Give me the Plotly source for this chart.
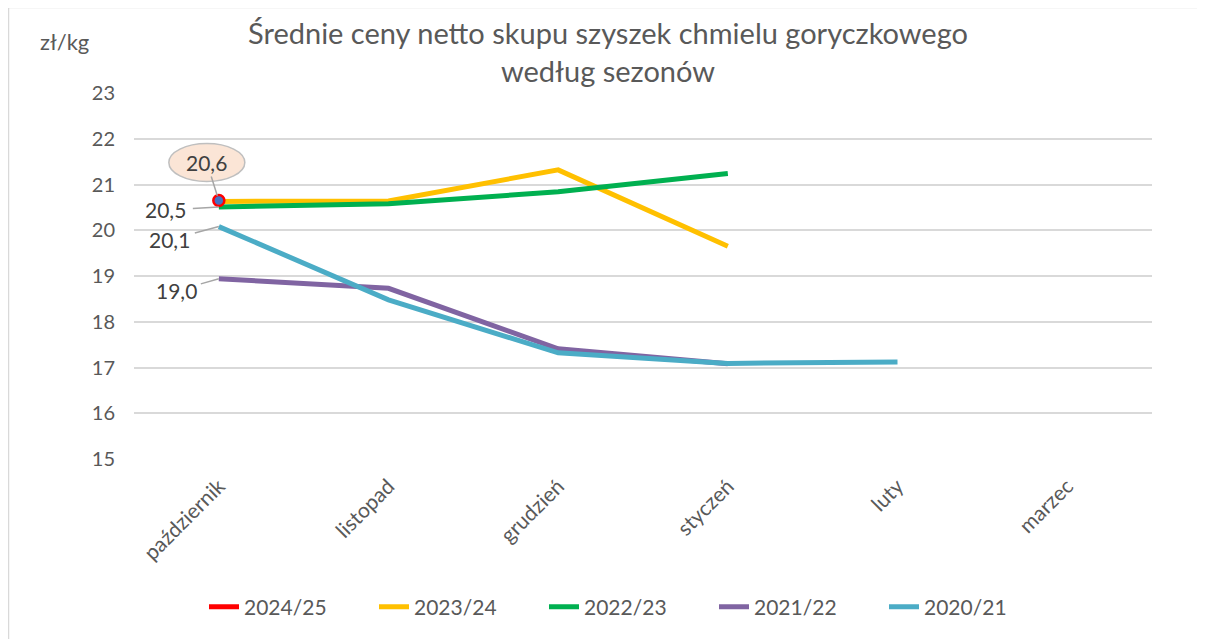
import plotly.graph_objects as go

months = ["październik", "listopad", "grudzień", "styczeń", "luty", "marzec"]
series_names = ["2024/25", "2023/24", "2022/23", "2021/22", "2020/21"]
s2024 = [20.65, None, None, None, None, None]
s2023 = [20.63, 20.64, 21.32, 19.65, None, None]
s2022 = [20.51, 20.58, 20.84, 21.24, None, None]
s2021 = [18.94, 18.73, 17.41, 17.08, None, None]
s2020 = [20.08, 18.48, 17.32, 17.09, 17.12, None]
colors = ["#FF0000", "#FFC000", "#00B050", "#8064A2", "#4BACC6"]
yticks = [15, 16, 17, 18, 19, 20, 21, 22, 23]

FONT = "Lato"
GRAY = "#595959"

# figure geometry (page body has an 8px margin)
W, H = 1197, 631
L, T, R, B = 126, 85, 53, 180
PW, PH = W - L - R, H - T - B
LW = 5

fig = go.Figure()
all_series = [s2024, s2023, s2022, s2021, s2020]
for name, vals, col in zip(series_names, all_series, colors):
    if name == "2024/25":
        fig.add_trace(go.Scatter(
            x=months, y=vals, name=name, mode="lines+markers",
            line=dict(color=col, width=LW),
            marker=dict(size=11, color="#4472C4", line=dict(color=col, width=2.5)),
            showlegend=False))
        fig.add_trace(go.Scatter(
            x=[None], y=[None], name=name, mode="lines",
            line=dict(color=col, width=LW)))
    else:
        fig.add_trace(go.Scatter(
            x=months, y=vals, name=name, mode="lines",
            line=dict(color=col, width=LW), connectgaps=False))

traces = list(fig.data)
fig.data = traces[1:] + traces[:1]

lab_font = dict(family=FONT, size=21, color="#404040")
fig.add_shape(type="circle", xref="x", yref="y", xsizemode="pixel", ysizemode="pixel",
              xanchor=months[0], yanchor=s2024[0], x0=-50, x1=26, y0=19, y1=57,
              fillcolor="#FBE5D6", line=dict(color="#BFBFBF", width=1.5), layer="below")
fig.add_annotation(x=months[0], y=s2024[0], text="20,6", showarrow=True,
                   ax=-12, ay=-38, arrowhead=0, arrowcolor="#A6A6A6", arrowwidth=1.5,
                   standoff=5, font=lab_font)
fig.add_annotation(x=months[0], y=s2022[0], text="20,5", showarrow=True,
                   ax=-53, ay=3, arrowhead=0, arrowcolor="#A6A6A6", arrowwidth=1.5,
                   standoff=0, borderpad=6, font=lab_font)
fig.add_annotation(x=months[0], y=s2020[0], text="20,1", showarrow=True,
                   ax=-49, ay=13, arrowhead=0, arrowcolor="#A6A6A6", arrowwidth=1.5,
                   standoff=0, borderpad=4, font=lab_font)
fig.add_annotation(x=months[0], y=s2021[0], text="19,0", showarrow=True,
                   ax=-42, ay=12, arrowhead=0, arrowcolor="#A6A6A6", arrowwidth=1.5,
                   standoff=0, borderpad=3, font=lab_font)

fig.add_annotation(xref="paper", yref="paper", x=(30 - L) / PW, y=(H - B - 34) / PH,
                   xanchor="left", yanchor="middle", text="zł/kg", showarrow=False,
                   font=dict(family=FONT, size=22, color=GRAY))

fig.add_shape(type="rect", xref="paper", yref="paper",
              x0=(0.5 - L) / PW, x1=(W + 20 - L) / PW,
              y0=(H - B - (H + 20)) / PH, y1=(H - B + 0.5) / PH,
              line=dict(color="#D9D9D9", width=1.5), fillcolor="rgba(0,0,0,0)", layer="below")

fig.update_layout(
    width=W, height=H,
    margin=dict(l=L, r=R, t=T, b=B),
    paper_bgcolor="white", plot_bgcolor="white",
    title=dict(text="Średnie ceny netto skupu szyszek chmielu goryczkowego<br>według sezonów",
               x=600 / W, xanchor="center", y=1 - 36 / H, yanchor="middle",
               yref="container",
               font=dict(family=FONT, size=29, color=GRAY)),
    font=dict(family=FONT, color=GRAY),
    legend=dict(orientation="h", x=621 / W, xref="container", xanchor="center",
                y=1 - 599 / H, yref="container", yanchor="middle",
                font=dict(family=FONT, size=21, color=GRAY),
                entrywidth=125, traceorder="normal"),
    showlegend=True,
)
fig.update_xaxes(type="category", categoryorder="array", categoryarray=months,
                 range=[-0.5, 5.5], tickangle=-45, showgrid=False, showline=False,
                 zeroline=False, ticks="", ticklabelstandoff=10,
                 tickfont=dict(family=FONT, size=21, color=GRAY))
fig.update_yaxes(range=[15, 23], tickvals=yticks, ticktext=[str(v) for v in yticks],
                 showgrid=True, gridcolor="#D9D9D9", gridwidth=1.5, zeroline=False,
                 showline=False, ticks="", ticklabelstandoff=18,
                 tickfont=dict(family=FONT, size=20, color=GRAY))

fig.write_html("out.html")
